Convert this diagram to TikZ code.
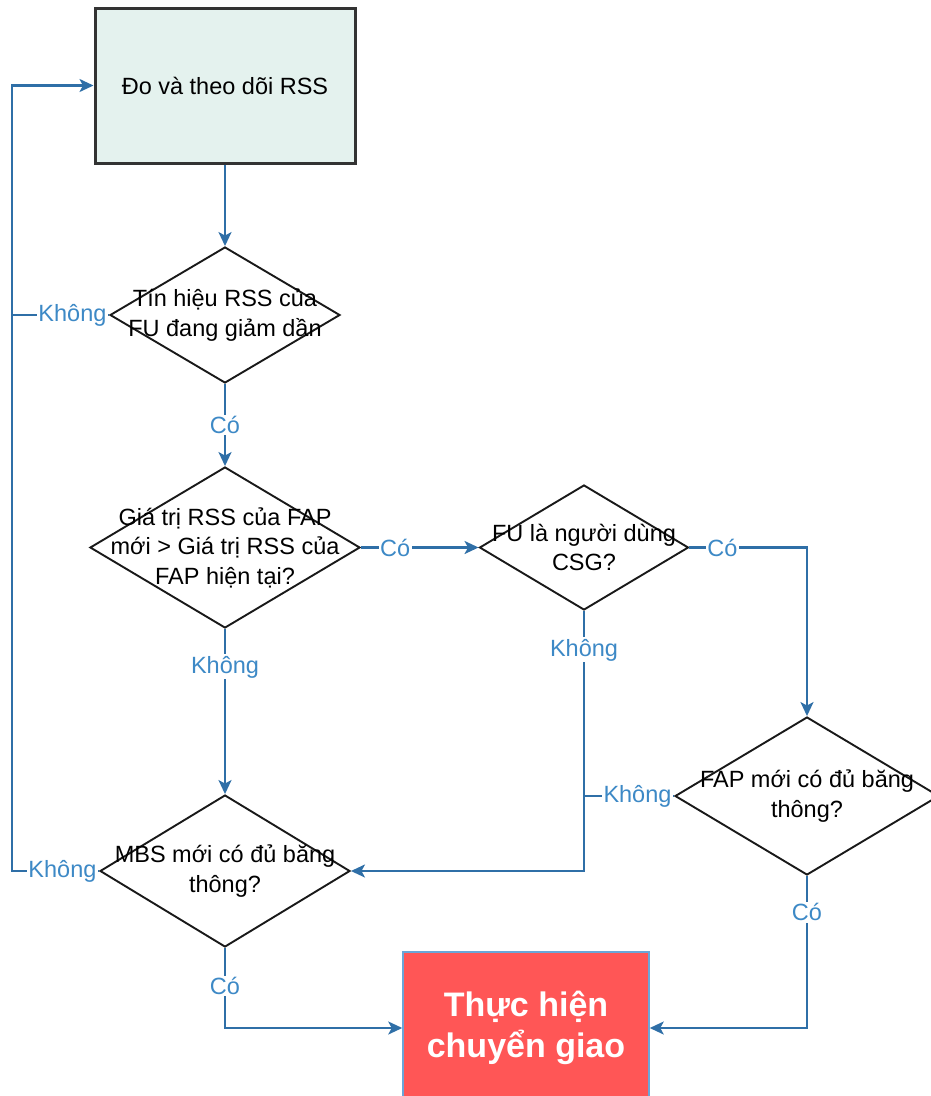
\documentclass[tikz,border=0pt]{standalone}
\usepackage{fontspec}
\setmainfont{Liberation Sans}
\usetikzlibrary{shapes.geometric,arrows.meta}
\definecolor{linkblue}{HTML}{2F6FA7}
\definecolor{labelblue}{HTML}{3D89C6}
\definecolor{startfill}{HTML}{E4F2EE}
\definecolor{endfill}{HTML}{FF5656}
\definecolor{endborder}{HTML}{6AA6D8}
\definecolor{edgegray}{HTML}{333333}

\tikzset{
  body/.style={font=\fontsize{23.5}{29.5}\selectfont, align=center, text=black},
  decision/.style={diamond, draw=black!90, line width=1.9pt, fill=white, inner sep=0pt},
  qtext/.style={body, inner sep=0pt},
  link/.style={draw=linkblue, line width=2.2pt},
  linkarrow/.style={link, -{Stealth[length=14pt,width=13pt,inset=3.5pt]}},
  answer/.style={fill=white, text=labelblue, font=\fontsize{23.5}{28}\selectfont, inner sep=1.5pt},
}

\begin{document}
\begin{tikzpicture}[x=1pt, y=-1pt]
  \path[use as bounding box] (0,0) rectangle (931,1096);
  \clip (0,0) rectangle (931,1096);

  % column used by the return loop on the left
  \coordinate (loop) at (12,0);

  % start box
  \node[draw=edgegray, line width=3pt, fill=startfill, minimum width=260pt,
        minimum height=155pt, body] (measure) at (225,85.5) {Đo và theo dõi RSS};

  % decisions
  \node[decision, minimum width=230pt, minimum height=136pt] (q1) at (225,315) {};
  \node[qtext] (q1t) at (q1) {Tín hiệu RSS của\\FU đang giảm dần};

  \node[decision, minimum width=270pt, minimum height=161pt] (q2) at (225,547.5) {};
  \node[qtext] (q2t) at (q2) {Giá trị RSS của FAP\\mới > Giá trị RSS của\\FAP hiện tại?};

  \node[decision, minimum width=209pt, minimum height=125pt] (q3) at (584,547.5) {};
  \node[qtext] (q3t) at (q3) {FU là người dùng\\CSG?};

  \node[decision, minimum width=264pt, minimum height=158pt] (q4) at (807,796) {};
  \node[qtext] (q4t) at (q4) {FAP mới có đủ băng\\thông?};

  \node[decision, minimum width=250pt, minimum height=152pt] (mbs) at (225,871) {};
  \node[qtext] (mbst) at (mbs) {MBS mới có đủ băng\\thông?};

  % end box
  \node[draw=endborder, line width=1.5pt, fill=endfill, minimum width=246pt,
        minimum height=152pt, text=white, align=center,
        font=\bfseries\fontsize{34}{41}\selectfont] (handover) at (526,1028)
        {Thực hiện\\chuyển giao};

  % connectors
  \draw[linkarrow] (measure.south) -- (q1.north);
  \draw[linkarrow] (q1.south) -- node[answer]{Có} (q2.north);
  \draw[link] (q1.west) -- node[answer, anchor=east, pos=0]{Không} (q1.west -| loop);
  \draw[linkarrow] (mbs.west) -- node[answer, anchor=east, pos=0]{Không} (mbs.west -| loop)
        -- (loop |- measure.west) -- (measure.west);

  \draw[linkarrow] (q2.east) -- node[answer, pos=0.29]{Có} (q3.west);
  \draw[linkarrow] (q2.south) -- node[answer, pos=0.23]{Không} (mbs.north);

  \draw[linkarrow] (q3.east) -- node[answer, pos=0.28]{Có} (q3.east -| q4.north) -- (q4.north);
  \draw[linkarrow] (q3.south) -- node[answer, pos=0.15]{Không} (q3.south |- mbs.east) -- (mbs.east);
  \draw[link] (q4.west) -- node[answer, anchor=east, pos=0]{Không} (q4.west -| q3.south);

  \draw[linkarrow] (mbs.south) -- node[answer, pos=0.475]{Có} (mbs.south |- handover.west) -- (handover.west);
  \draw[linkarrow] (q4.south) -- node[answer, pos=0.24]{Có} (q4.south |- handover.east) -- (handover.east);
\end{tikzpicture}
\end{document}
